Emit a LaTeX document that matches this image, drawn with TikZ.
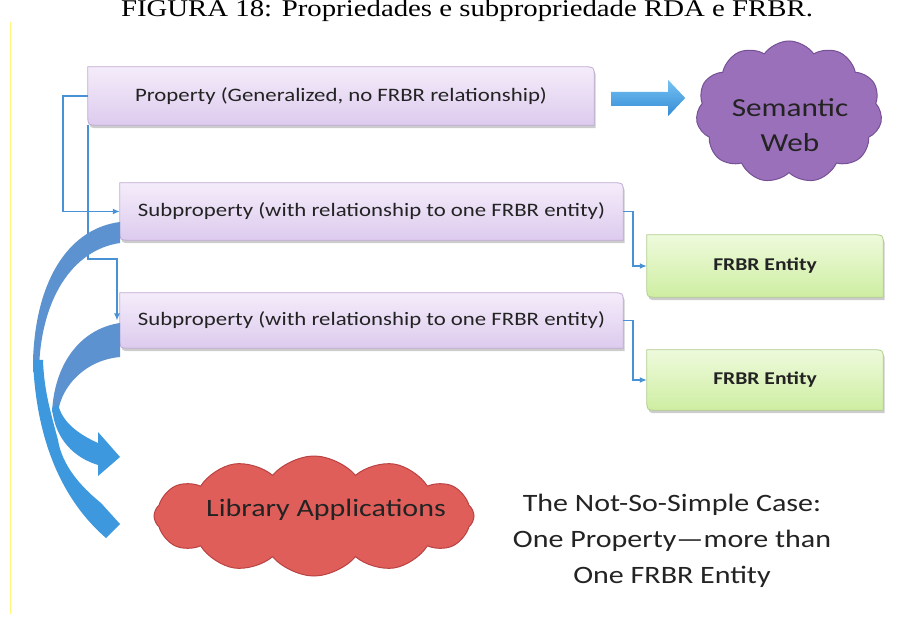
\documentclass[tikz,border=0pt]{standalone}
\usepackage{fontspec}
\setmainfont{Carlito}[FakeStretch=1.2]
\newfontfamily\capfont{Liberation Serif}[FakeStretch=1.2]
\usetikzlibrary{arrows.meta,shapes.symbols,calc,backgrounds}

\definecolor{txt}{RGB}{35,35,35}
\definecolor{lnblue}{RGB}{72,145,212}
\definecolor{pTop}{RGB}{244,236,250}
\definecolor{pBot}{RGB}{221,203,238}
\definecolor{pBrd}{RGB}{192,172,212}
\definecolor{gTop}{RGB}{238,250,220}
\definecolor{gBot}{RGB}{206,238,162}
\definecolor{gBrd}{RGB}{178,206,142}
\definecolor{swFill}{RGB}{154,112,186}
\definecolor{swBrd}{RGB}{118,80,150}
\definecolor{libFill}{RGB}{224,94,90}
\definecolor{libBrd}{RGB}{186,66,66}
\definecolor{backBlue}{RGB}{92,146,208}
\definecolor{frontBlue}{RGB}{62,152,222}
\definecolor{arrTop}{RGB}{118,194,242}
\definecolor{arrBot}{RGB}{52,140,214}
\definecolor{ylw}{RGB}{255,248,120}

\newcommand{\rdbox}[4]{%
  \fill[black,opacity=0.2,transform canvas={shift={(1.5pt,-3pt)}}]
    (#1.north west) -- ($(#1.north east)+(-10,0)$) .. controls (#1.north east) .. ($(#1.north east)+(0,10)$)
    -- (#1.south east) -- ($(#1.south west)+(10,0)$) .. controls (#1.south west) .. ($(#1.south west)+(0,-10)$) -- cycle;
  \path[top color=#2, bottom color=#3, draw=#4, line width=0.8pt]
    (#1.north west) -- ($(#1.north east)+(-10,0)$) .. controls (#1.north east) .. ($(#1.north east)+(0,10)$)
    -- (#1.south east) -- ($(#1.south west)+(10,0)$) .. controls (#1.south west) .. ($(#1.south west)+(0,-10)$) -- cycle;
}

\tikzset{
  boxtext/.style={font=\fontsize{19}{23}\selectfont, text=txt, inner sep=0pt},
  enttext/.style={font=\bfseries\fontsize{18}{22}\selectfont, text=txt, inner sep=0pt},
  conn/.style={draw=lnblue, line width=1.6pt, -{Latex[length=7pt,width=6pt]}},
  puff/.style={cloud, cloud ignores aspect, inner sep=0pt, line width=1pt},
}

\begin{document}
\begin{tikzpicture}[x=1pt,y=-1pt]
\useasboundingbox (0,0) rectangle (902,617);

% caption (partly cut at top)
\node[font=\capfont\fontsize{24}{28}\selectfont, anchor=base, text=black, inner sep=0pt] (cap) at (467,17)
  {FIGURA 18: Propriedades e subpropriedade RDA e FRBR.};

% yellow margin line
\draw[ylw, line width=1pt] (10.5,22) -- (10.5,614);

% boxes
\node[boxtext, minimum width=506pt, minimum height=58pt] (prop) at (341,96) {Property (Generalized, no FRBR relationship)};
\node[boxtext, minimum width=503pt, minimum height=57pt] (sub1) at (371.5,211.5) {Subproperty (with relationship to one FRBR entity)};
\node[boxtext, minimum width=503pt, minimum height=55pt] (sub2) at (371.5,320.5) {Subproperty (with relationship to one FRBR entity)};
\node[enttext, minimum width=236pt, minimum height=62pt] (fr1) at (765,266) {FRBR Entity};
\node[enttext, minimum width=236pt, minimum height=60pt] (fr2) at (765,380) {FRBR Entity};

\begin{pgfonlayer}{background}
  \fill[white] (0,0) rectangle (902,617);
  \rdbox{prop}{pTop}{pBot}{pBrd}
  \rdbox{sub1}{pTop}{pBot}{pBrd}
  \rdbox{sub2}{pTop}{pBot}{pBrd}
  \rdbox{fr1}{gTop}{gBot}{gBrd}
  \rdbox{fr2}{gTop}{gBot}{gBrd}
\end{pgfonlayer}

% clouds
\node[puff, cloud puffs=11, cloud puff arc=110, minimum width=186pt, minimum height=142pt, fill=swFill, draw=swBrd] (sw) at (789,112) {};
\node[font=\fontsize{26}{35}\selectfont, align=center, text=txt, inner sep=0pt] (swt) at (790,125) {Semantic\\Web};

\node[puff, cloud puffs=12, cloud puff arc=100, minimum width=320pt, minimum height=120pt, fill=libFill, draw=libBrd] (lib) at (314,516) {};
\node[font=\fontsize{25}{30}\selectfont, text=txt, inner sep=0pt] (libt) at (326,510) {Library Applications};

% note
\node[font=\fontsize{25}{36}\selectfont, align=center, text=txt, inner sep=0pt] (note) at (672,541)
  {The Not-So-Simple Case:\\One Property—more than\\One FRBR Entity};

% block arrow property -> semantic web
\path[top color=arrTop, bottom color=arrBot]
  ($(prop.east)+(17,-4)$) -- ($(prop.east)+(74,-4)$) -- ($(prop.east)+(74,-16)$)
  -- ($(prop.east)+(91,2)$) -- ($(prop.east)+(74,20)$) -- ($(prop.east)+(74,10)$)
  -- ($(prop.east)+(17,10)$) -- cycle;

% thin connectors
\draw[conn] (prop.west) -- ++(-25,0) |- (sub1.west);
\coordinate (kk) at (117,259);
\draw[conn] (prop.south west) |- (kk) -- (kk |- sub2.west);
\draw[conn] (sub1.east) -- ++(10,0) |- (fr1.west);
\draw[conn] (sub2.east) -- ++(10,0) |- (fr2.west);

% curved ribbon arrows (back bands)
\fill[backBlue]
  (120,222) .. controls (72,228) and (36,275) .. (33,360) -- (33,372) -- (39,372)
  .. controls (40,300) and (72,250) .. (120,243) -- cycle;
\fill[backBlue]
  (120,323) .. controls (85,328) and (55,358) .. (52,412) -- (58,412)
  .. controls (62,385) and (86,360) .. (120,357) -- cycle;
% front bands
\fill[frontBlue]
  (52,408) .. controls (55,440) and (75,458) .. (98,465) -- (98,476) -- (120,457) -- (98,432) -- (98,443)
  .. controls (78,434) and (62,422) .. (58,404) -- cycle;
\fill[frontBlue]
  (33,360) .. controls (36,440) and (62,500) .. (106,538) -- (120,524) -- (101,503)
  .. controls (80,486) and (62,465) .. (58,440) .. controls (50,410) and (44,390) .. (43,360) -- cycle;
\end{tikzpicture}
\end{document}
